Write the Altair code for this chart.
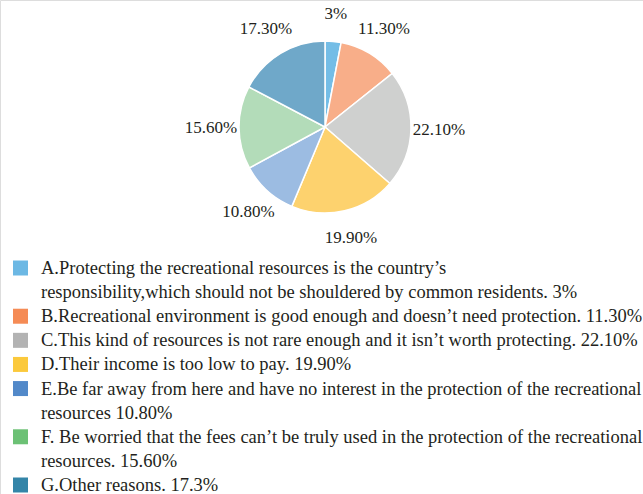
import altair as alt
import pandas as pd

# --- data ---
categories = ["A", "B", "C", "D", "E", "F", "G"]
shares = [3.0, 11.3, 22.1, 19.9, 10.8, 15.6, 17.3]
slice_labels = ["3%", "11.30%", "22.10%", "19.90%", "10.80%", "15.60%", "17.30%"]
pie_colors = ["#74bde6", "#f8ae89", "#cfd0cf", "#fdd26e", "#9cbce2", "#b3dcb9", "#6fa8c9"]
legend_colors = ["#6cb8e4", "#f58b55", "#b3b3b3", "#fbc93c", "#5289c9", "#6cc175", "#3485a8"]

legend_lines = [
    "A.Protecting the recreational resources is the country\u2019s",
    "responsibility,which should not be shouldered by common residents. 3%",
    "B.Recreational environment is good enough and doesn\u2019t need protection. 11.30%",
    "C.This kind of resources is not rare enough and it isn\u2019t worth protecting. 22.10%",
    "D.Their income is too low to pay. 19.90%",
    "E.Be far away from here and have no interest in the protection of the recreational",
    "resources 10.80%",
    "F. Be worried that the fees can\u2019t be truly used in the protection of the recreational",
    "resources. 15.60%",
    "G.Other reasons. 17.3%",
]
legend_line_category = ["A", "", "B", "C", "D", "E", "", "F", "", "G"]

pie_df = pd.DataFrame({
    "cat": categories,
    "share": shares,
    "label": slice_labels,
    "idx": list(range(len(categories))),
})
lines_df = pd.DataFrame({
    "text": legend_lines,
    "line": list(range(len(legend_lines))),
    "cat": legend_line_category,
})
squares_df = lines_df[lines_df["cat"] != ""]

FONT = "Liberation Serif"
TXT = "#231f20"
CX, CY = 325, 127

theta = alt.Theta("share:Q", stack=True)
order = alt.Order("idx:Q", sort="ascending")

arcs = alt.Chart(pie_df).mark_arc(outerRadius=86, stroke="white", strokeWidth=1.5).encode(
    theta=theta,
    order=order,
    color=alt.Color("cat:N", scale=alt.Scale(domain=categories, range=pie_colors), legend=None),
    x=alt.value(CX),
    y=alt.value(CY),
)

pie_text = alt.Chart(pie_df).mark_text(radius=114, fontSize=17, font=FONT, color=TXT).encode(
    theta=theta,
    order=order,
    text="label:N",
    x=alt.value(CX),
    y=alt.value(CY),
)

yscale = alt.Scale(domain=[0, 9], range=[268, 485])

squares = alt.Chart(squares_df).mark_square(size=225, opacity=1, filled=True).encode(
    x=alt.value(20.5),
    y=alt.Y("line:Q", scale=yscale, axis=None),
    color=alt.Color("cat:N", scale=alt.Scale(domain=categories, range=legend_colors), legend=None),
)

legend_text = alt.Chart(lines_df).mark_text(
    align="left", baseline="middle", fontSize=18.5, font=FONT, color=TXT
).encode(
    x=alt.value(41),
    y=alt.Y("line:Q", scale=yscale, axis=None),
    text="text:N",
)

chart = (
    alt.layer(arcs, pie_text, squares, legend_text)
    .resolve_scale(color="independent")
    .properties(width=643, height=494, padding=0, autosize=alt.AutoSizeParams(type="none"))
    .configure_view(stroke=None)
    .configure(background="white")
)

chart.save("out.html", embed_options={"renderer": "svg", "actions": False})
